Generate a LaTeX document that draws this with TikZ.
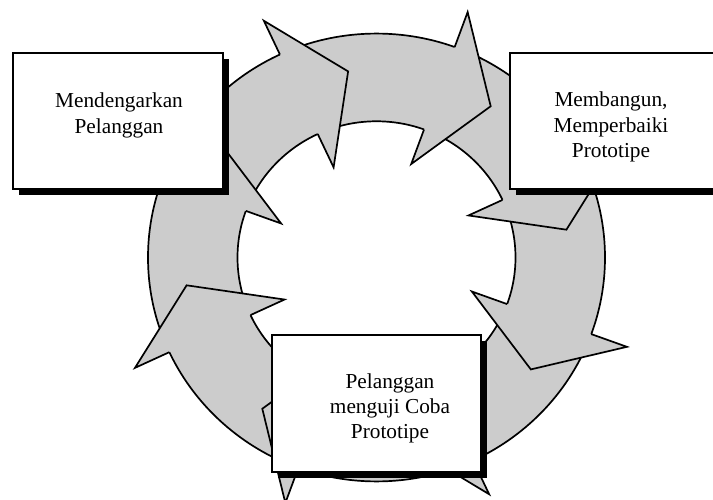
\documentclass[tikz,border=0pt]{standalone}
\usepackage{fontspec}
\setmainfont{Liberation Serif}
\definecolor{ringgray}{RGB}{204,204,204}
\begin{document}
\begin{tikzpicture}[x=1pt,y=-1pt,
  ringline/.style={line width=1.7pt, line join=miter, miter limit=20},
  boxstyle/.style={draw=black, line width=1.1pt, fill=white, inner sep=0pt},
  shadowstyle/.style={fill=black, draw=none, inner sep=0pt},
  txt/.style={anchor=base, inner sep=0pt, font=\fontsize{21.3}{25.3}\selectfont}]
\useasboundingbox (0,0) rectangle (713,500);
\clip (0,0) rectangle (713,500);
\fill[white] (0,0) rectangle (713,500);
% ring
\begin{scope}[shift={(376.5,257.5)}, yscale=0.98]
  \fill[ringgray, even odd rule] (0,0) circle[radius=228.5pt] (0,0) circle[radius=139pt];
  \draw[ringline] (0,0) circle[radius=228.5pt];
  \draw[ringline] (0,0) circle[radius=139pt];
  \foreach \k in {0,...,7} {
    \pgfmathsetmacro\bk{20+45*\k}
    \pgfmathsetmacro\tk{36.5+45*\k}
    \fill[ringgray] (\bk:228.5) -- (\bk:266.5) -- (\tk:192) -- (\bk:101.5) -- (\bk:139) -- cycle;
    \draw[ringline] (\bk:228.5) -- (\bk:266.5) -- (\tk:192) -- (\bk:101.5) -- (\bk:139);
  }
\end{scope}
% boxes
\node[shadowstyle, minimum width=210pt, minimum height=136pt] (s1) at (124,127) {};
\node[boxstyle, minimum width=210pt, minimum height=136pt] (b1) at (118,121) {};
\node[shadowstyle, minimum width=225pt, minimum height=136pt] (s2) at (628.5,127) {};
\node[boxstyle, minimum width=225pt, minimum height=136pt] (b2) at (622.5,121) {};
\node[shadowstyle, minimum width=209pt, minimum height=137pt] (s3) at (382.5,409.5) {};
\node[boxstyle, minimum width=209pt, minimum height=137pt] (b3) at (376.5,403.5) {};
% texts
\node[txt] (t1) at (119,108) {\begin{tabular}[t]{@{}c@{}}Mendengarkan\\Pelanggan\end{tabular}};
\node[txt] (t2) at (611,107) {\begin{tabular}[t]{@{}c@{}}Membangun,\\Memperbaiki\\Prototipe\end{tabular}};
\node[txt] (t3) at (390,388) {\begin{tabular}[t]{@{}c@{}}Pelanggan\\menguji Coba\\Prototipe\end{tabular}};
\end{tikzpicture}
\end{document}
